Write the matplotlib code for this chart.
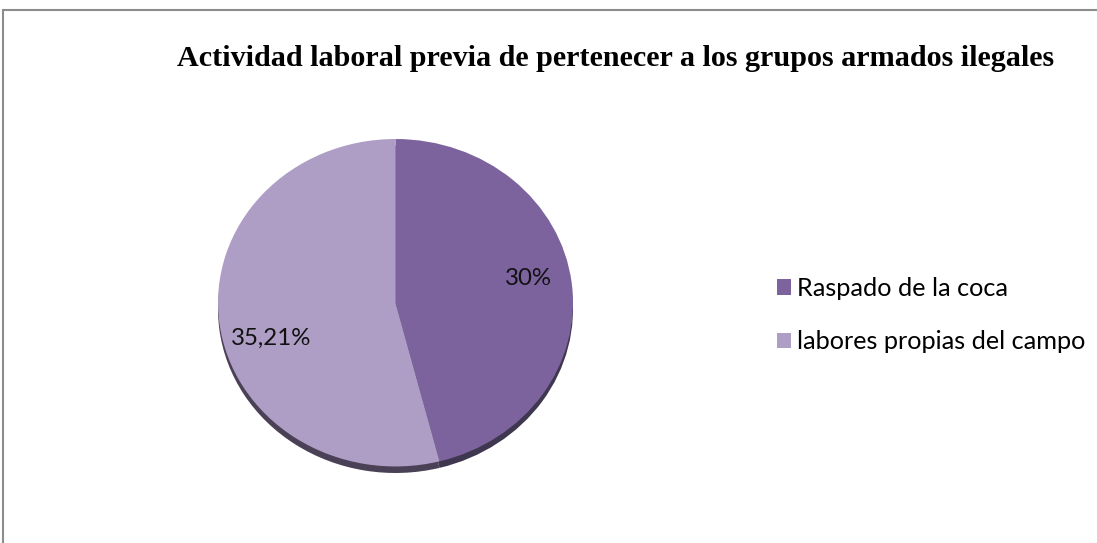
import matplotlib.pyplot as plt
from matplotlib.patches import Rectangle

# data
categories = ["Raspado de la coca", "labores propias del campo"]
values = [30, 35.21]
colors = ["#7C639E", "#AE9DC4"]
title = "Actividad laboral previa de pertenecer a los grupos armados ilegales"

W, H = 1097, 543
fig = plt.figure(figsize=(W / 100, H / 100), dpi=100)

# chart border (cut off on the right and bottom)
fig.patches.append(Rectangle((3 / W, -0.1), 1.2, 1.1 - 10 / H, transform=fig.transFigure,
                             fill=False, edgecolor="#8c8c8c", linewidth=1.5))

fig.text(616 / W, 1 - 58 / H, title, ha="center", va="center",
         family="Liberation Serif", weight="bold", fontsize=21.7)

# pie area in pixels
left, top, right, bottom = 218, 139, 573, 473
ax = fig.add_axes([left / W, 1 - bottom / H, (right - left) / W, (bottom - top) / H])

# shadow
ax.pie(values, colors=["#3f3650", "#4a4156"], startangle=90, counterclock=False,
       radius=1, center=(0, -0.04), wedgeprops=dict(linewidth=0), frame=True)
wedges, _ = ax.pie(values, colors=colors, startangle=90, counterclock=False,
                   radius=1, wedgeprops=dict(linewidth=0), frame=True)
ax.set_xlim(-1, 1)
ax.set_ylim(-1.04, 1)
ax.set_aspect("auto")
ax.axis("off")

labels = [f"{v:g}%".replace(".", ",") for v in values]
label_pos = [(0.75, 0.15), (-0.70, -0.22)]
for lab, (x, y) in zip(labels, label_pos):
    ax.text(x, y, lab, ha="center", va="center", family="Lato", fontsize=17.3, color="#111111")

# legend
leg = fig.legend(wedges, categories, loc="upper left", bbox_to_anchor=(777 / W, 1 - 277 / H),
                 frameon=False, prop=dict(family="Lato", size=18.2), handlelength=0.55,
                 handleheight=0.55, handletextpad=0.25, labelspacing=1.2, borderaxespad=0,
                 borderpad=0)

fig.savefig("out.png", dpi=100)
